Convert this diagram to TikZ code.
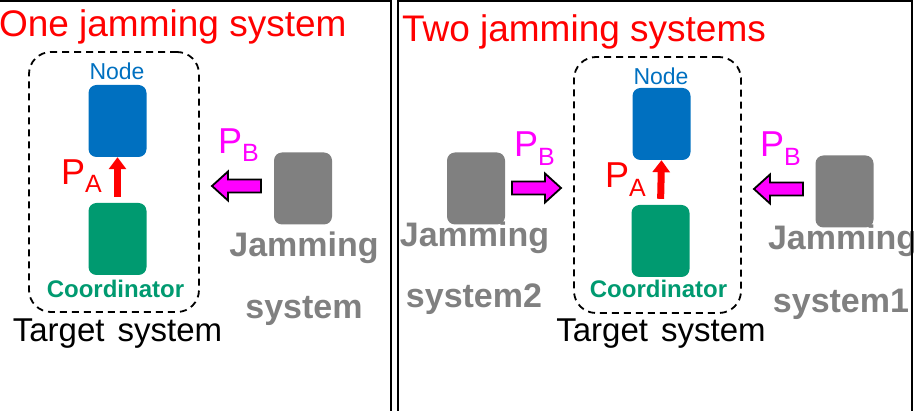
\documentclass[tikz,border=0pt]{standalone}
\usepackage{fontspec}
\setmainfont{Liberation Sans}
\usetikzlibrary{arrows.meta}
\definecolor{nodeblue}{HTML}{0070C0}
\definecolor{coordgreen}{HTML}{009A70}
\definecolor{jamgray}{HTML}{808080}
\definecolor{pbpink}{HTML}{FF00FF}
\definecolor{pared}{HTML}{FF0000}
\newcommand\fsz[1]{\fontsize{#1}{#1}\selectfont}
\begin{document}
\begin{tikzpicture}[x=1pt,y=-1pt,
  box/.style={rounded corners=8pt, minimum width=58pt, minimum height=72pt, inner sep=0pt},
  bluebox/.style={box, fill=nodeblue},
  greenbox/.style={box, fill=coordgreen},
  graybox/.style={box, fill=jamgray},
  targetbox/.style={draw, dashed, dash pattern=on 7pt off 5pt, line width=1.8pt, rounded corners=22pt, inner sep=0pt},
  lbl/.style={inner sep=0pt, outer sep=0pt},
  title/.style={lbl, anchor=base west, text=pared, font=\fsz{37}},
  nodelbl/.style={lbl, anchor=base, text=nodeblue, font=\fsz{23}},
  coordlbl/.style={lbl, anchor=base, text=coordgreen, font=\fsz{24}\bfseries},
  targetlbl/.style={lbl, anchor=base, font=\fsz{33}},
  jamlbl/.style={lbl, text=jamgray, font=\fsz{34}\bfseries},
  plbl/.style={lbl, anchor=base west},
  redarrow/.style={draw=pared, line width=7pt, -{Triangle[width=17pt,length=12pt]}, shorten <=6pt},
  frame/.style={draw, line width=2pt},
  parrow/.pic={\draw[line width=1.8pt, fill=pbpink, line join=miter] (0,0) -- (16,-14.5) -- (16,-6.5) -- (49,-6.5) -- (49,6.5) -- (16,6.5) -- (16,14.5) -- cycle;}
]
\useasboundingbox (0,0) rectangle (914,411);
\clip (0,0) rectangle (914,411);

% ---------------- left panel ----------------
\node[title] (t1) at (-1,37) {One jamming system};
\node[targetbox, minimum width=170pt, minimum height=260pt] (ltarget) at (114,182) {};
\node[bluebox] (lnode) at (117.5,121) {};
\node[greenbox] (lcoord) at (117.5,239) {};
\node[nodelbl] (lnodetxt) at (117,80) {Node};
\node[coordlbl] (lcoordtxt) at (115.5,298) {Coordinator};
\node[targetlbl] (ltargettxt) at (117.5,342) {Target\hspace{0.12em} system};
\draw[redarrow] (lcoord.north) -- (lnode.south);
\node[plbl, text=pared] (lpa) at (61,185) {{\fsz{36}P}\raisebox{-8pt}{\fsz{25}A}};
\node[graybox] (ljam) at (303,188.5) {};
\node[jamlbl, anchor=base] (ljamtxt1) at (304,257) {Jamming};
\node[jamlbl, anchor=base] (ljamtxt2) at (304,319) {system};
\coordinate (ltip) at (212,186);
\pic at (ltip) {parrow};
\node[plbl, text=pbpink] (lpb) at (218,154) {{\fsz{36}P}\raisebox{-8pt}{\fsz{25}B}};

% ---------------- right panel ----------------
\node[title] (t2) at (402,42) {Two jamming systems};
\node[targetbox, minimum width=167pt, minimum height=256pt] (rtarget) at (657.5,185) {};
\node[bluebox] (rnode) at (661.5,124) {};
\node[greenbox] (rcoord) at (660.5,241) {};
\node[nodelbl] (rnodetxt) at (661,85) {Node};
\node[coordlbl] (rcoordtxt) at (658.5,298) {Coordinator};
\node[targetlbl] (rtargettxt) at (661,342) {Target\hspace{0.12em} system};
\draw[redarrow] (rcoord.north) -- (rnode.south);
\node[plbl, text=pared] (rpa) at (605,188) {{\fsz{36}P}\raisebox{-9pt}{\fsz{25}A}};
% jamming system 2
\node[graybox] (rjam2) at (476,188.5) {};
\node[jamlbl, anchor=base] (rjam2txt1) at (474.5,247) {Jamming};
\node[jamlbl, anchor=base] (rjam2txt2) at (474,308) {system2};
\coordinate (rtip2) at (561,188);
\pic[xscale=-1] at (rtip2) {parrow};
\node[plbl, text=pbpink] (rpb2) at (514,157) {{\fsz{36}P}\raisebox{-9pt}{\fsz{25}B}};
% jamming system 1
\node[graybox] (rjam1) at (844.5,191.5) {};
\node[jamlbl, anchor=base west] (rjam1txt1) at (768,250) {Jamming};
\node[jamlbl, anchor=base] (rjam1txt2) at (841,313) {system1};
\coordinate (rtip1) at (754,189);
\pic at (rtip1) {parrow};
\node[plbl, text=pbpink] (rpb1) at (760,157) {{\fsz{36}P}\raisebox{-9pt}{\fsz{25}B}};

% ---------------- frames ----------------
\draw[frame] (-10,1) rectangle (391,430);
\draw[frame] (398,1) rectangle (912,430);
\end{tikzpicture}
\end{document}
